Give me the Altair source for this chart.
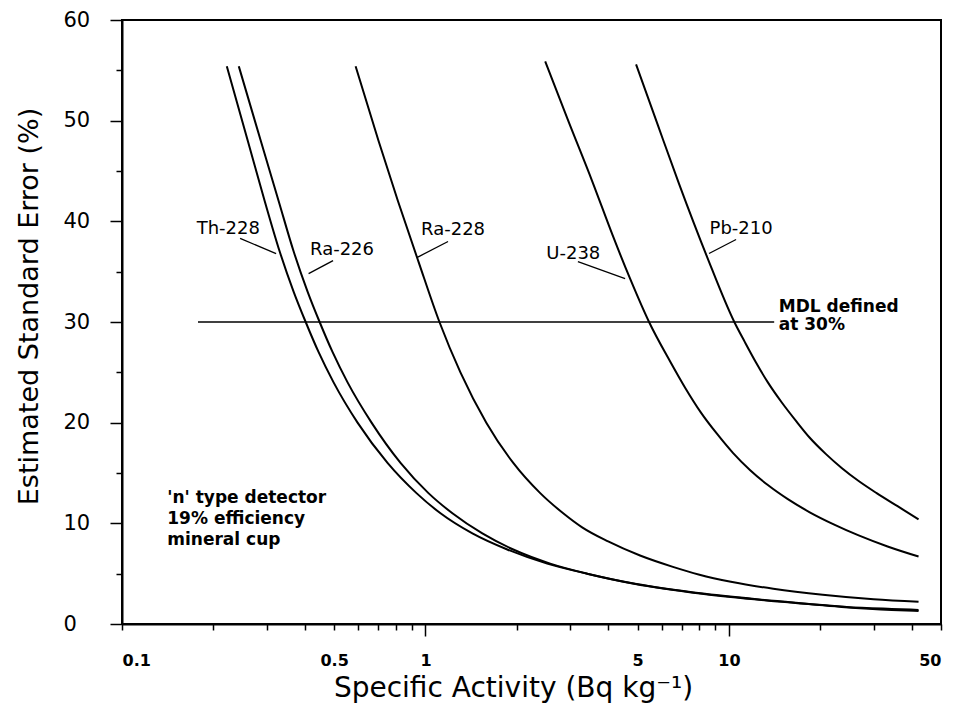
import altair as alt
import pandas as pd

# ---- curve data ----
th228_x = [0.2215, 0.2597, 0.2954, 0.3309, 0.3679, 0.4030, 0.4446, 0.4980, 0.5974, 0.7499, 0.9342,
           1.121, 1.428, 1.861, 2.519, 3.412, 4.869, 8.152, 14.94, 23.53, 34.37, 42.17]
th228_y = [55.4, 48, 42, 37, 33, 30, 27, 24, 20, 16, 13, 11, 9, 7.4, 6, 5, 4, 3, 2.2, 1.7, 1.4, 1.3]

ra226_x = [0.2426, 0.2866, 0.3284, 0.3679, 0.4091, 0.4480, 0.4944, 0.5538, 0.6643, 0.8277, 1.023,
           1.227, 1.540, 1.947, 2.577, 3.412, 4.906, 8.340, 15.40, 24.44, 34.37, 42.17]
ra226_y = [55.4, 48, 42, 37, 33, 30, 27, 24, 20, 16, 13, 11, 9, 7.4, 6, 5, 4, 3, 2.2, 1.7, 1.5, 1.4]

ra228_x = [0.5886, 0.7003, 0.812, 0.9484, 1.112, 1.304, 1.587, 1.947, 2.389, 2.844, 3.284, 4.0,
           5.096, 6.5, 8.0, 10.15, 14.0, 20.38, 30.0, 42.17]
ra228_y = [55.4, 48, 42, 36, 30, 25, 20, 16, 13, 11, 9.6, 8.2, 6.8, 5.7, 4.9, 4.2, 3.5, 2.9, 2.45, 2.2]

u238_x = [2.481, 2.954, 3.543, 4.153, 4.725, 5.456, 6.397, 7.165, 8.090, 9.131, 10.31, 11.73,
          13.44, 15.64, 18.47, 22.15, 26.77, 33.34, 42.17]
u238_y = [55.9, 50, 44, 38.5, 34.3, 30, 26.1, 23.5, 21, 18.9, 17, 15.3, 13.8, 12.4, 11.1, 9.9,
          8.8, 7.7, 6.7]

pb210_x = [4.944, 5.841, 6.846, 8.466, 10.42, 11.29, 12.27, 13.44, 14.94, 16.61, 18.47, 20.85,
           23.53, 26.77, 30.68, 35.96, 42.17]
pb210_y = [55.6, 49.5, 43.75, 36.5, 30, 28, 26, 24, 22, 20.2, 18.5, 16.9, 15.5, 14.2, 13, 11.7, 10.4]

# ---- annotation data ----
iso_names = ["Th-228", "Ra-226", "Ra-228", "U-238", "Pb-210"]
iso_label_x = [0.224, 0.531, 1.233, 3.07, 10.97]
iso_label_y = [39.2, 37.2, 39.1, 36.8, 39.2]
leader_x1 = [0.245, 0.496, 1.187, 3.18, 10.56]
leader_y1 = [38.3, 36.1, 38.0, 36.0, 38.2]
leader_x2 = [0.322, 0.412, 0.937, 4.55, 8.60]
leader_y2 = [36.8, 34.8, 36.4, 34.3, 36.8]

mdl_x1 = [0.178]
mdl_x2 = [14.1]
mdl_y = [30]
mdl_text = ["MDL defined", "at 30%"]
mdl_text_x = [14.6, 14.6]
mdl_text_y = [31.5, 29.7]

det_text = ["'n' type detector", "19% efficiency", "mineral cup"]
det_text_x = [0.141, 0.141, 0.141]
det_text_y = [12.5, 10.4, 8.3]

x_minor_ticks = [0.1, 0.2, 0.3, 0.4, 0.5, 0.6, 0.7, 0.8, 0.9,
                 2, 3, 4, 5, 6, 7, 8, 9, 20, 30, 40, 50]
x_major_ticks = [1, 10]
x_label_vals = [0.1, 0.5, 1, 5, 10, 50]
y_minor_ticks = [5, 15, 25, 35, 45, 55]
y_major_ticks = [0, 10, 20, 30, 40, 50, 60]

# ---- tables ----
rows = []
for name, xs, ys in [("Th-228", th228_x, th228_y), ("Ra-226", ra226_x, ra226_y),
                     ("Ra-228", ra228_x, ra228_y), ("U-238", u238_x, u238_y),
                     ("Pb-210", pb210_x, pb210_y)]:
    for i, (a, b) in enumerate(zip(xs, ys)):
        rows.append({"isotope": name, "i": i, "x": a, "y": b})
curve_df = pd.DataFrame(rows)

iso_df = pd.DataFrame({"name": iso_names, "x": iso_label_x, "y": iso_label_y})
lead_df = pd.DataFrame({"x1": leader_x1, "y1": leader_y1, "x2": leader_x2, "y2": leader_y2})
mdl_df = pd.DataFrame({"x1": mdl_x1, "x2": mdl_x2, "y": mdl_y})
mdl_t_df = pd.DataFrame({"t": mdl_text, "x": mdl_text_x, "y": mdl_text_y})
det_df = pd.DataFrame({"t": det_text, "x": det_text_x, "y": det_text_y})

xscale = alt.Scale(type="log", domain=[0.1, 50])
yscale = alt.Scale(domain=[0, 60])
FONT = "DejaVu Sans"

common_axis = dict(grid=False, tickColor="black", domainColor="black", labelColor="black",
                   titleColor="black")

curves = alt.Chart(curve_df).mark_line(color="black", strokeWidth=2, interpolate="monotone").encode(
    x=alt.X("x:Q", scale=xscale,
            axis=alt.Axis(orient="bottom", values=x_minor_ticks, labels=False, tickSize=6,
                          tickWidth=1.5, domain=True, domainWidth=2, title=None, **common_axis)),
    y=alt.Y("y:Q", scale=yscale,
            axis=alt.Axis(orient="left", values=y_minor_ticks, labels=False, tickSize=6,
                          tickWidth=1.5, domain=True, domainWidth=2, title=None, **common_axis)),
    detail="isotope:N",
    order="i:Q",
)

mdl = alt.Chart(mdl_df).mark_rule(color="black", strokeWidth=1.5).encode(
    x=alt.X("x1:Q", scale=xscale,
            axis=alt.Axis(orient="bottom", values=x_major_ticks, labels=False, tickSize=12,
                          tickWidth=1.5, domain=False, title=None, **common_axis)),
    x2="x2:Q",
    y=alt.Y("y:Q", scale=yscale,
            axis=alt.Axis(orient="left", values=y_major_ticks, tickSize=12, tickWidth=1.5,
                          domain=False, labelFont=FONT, labelFontSize=21, labelAlign="left",
                          labelPadding=47, labelBaseline="middle",
                          title="Estimated Standard Error (%)", titleFont=FONT,
                          titleFontSize=27, titleFontWeight="normal", titleX=-93, titleY=286,
                          titleAngle=270, titleAlign="center", titleBaseline="middle",
                          **common_axis)),
)

leaders = alt.Chart(lead_df).mark_rule(color="black", strokeWidth=1.3).encode(
    x=alt.X("x1:Q", scale=xscale, axis=None),
    x2="x2:Q",
    y=alt.Y("y1:Q", scale=yscale, axis=None),
    y2="y2:Q",
)

iso_text = alt.Chart(iso_df).mark_text(font=FONT, fontSize=18, color="black",
                                       align="center", baseline="middle").encode(
    x=alt.X("x:Q", scale=xscale,
            axis=alt.Axis(orient="bottom", values=x_label_vals, ticks=False, tickSize=0,
                          domain=False, labelFont=FONT, labelFontSize=16, labelFontWeight="bold",
                          labelPadding=28, labelBaseline="top",
                          labelExpr="datum.value < 1 ? format(datum.value, '.1f') : format(datum.value, 'd')",
                          title="Specific Activity (Bq kg⁻¹)", titleFont=FONT, titleFontSize=28,
                          titleFontWeight="normal", titleX=391, titleY=64,
                          titleBaseline="middle", titleAlign="center", **common_axis)),
    y=alt.Y("y:Q", scale=yscale, axis=None),
    text="name:N",
)

mdl_text_layer = alt.Chart(mdl_t_df).mark_text(font=FONT, fontSize=17, fontWeight="bold",
                                               color="black", align="left", baseline="middle").encode(
    x=alt.X("x:Q", scale=xscale, axis=None),
    y=alt.Y("y:Q", scale=yscale, axis=None),
    text="t:N",
)

det_text_layer = alt.Chart(det_df).mark_text(font=FONT, fontSize=17, fontWeight="bold",
                                             color="black", align="left", baseline="middle").encode(
    x=alt.X("x:Q", scale=xscale, axis=None),
    y=alt.Y("y:Q", scale=yscale, axis=None),
    text="t:N",
)

chart = alt.layer(curves, mdl, leaders, iso_text, mdl_text_layer, det_text_layer).resolve_axis(
    x="independent", y="independent"
).properties(
    width=819, height=604,
    autosize=alt.AutoSizeParams(type="none"),
    padding={"left": 114, "top": 12, "right": 4, "bottom": 90},
    background="white",
).configure_view(stroke="black", strokeWidth=2)

chart.save("out.html", embed_options={"renderer": "svg", "actions": False})
